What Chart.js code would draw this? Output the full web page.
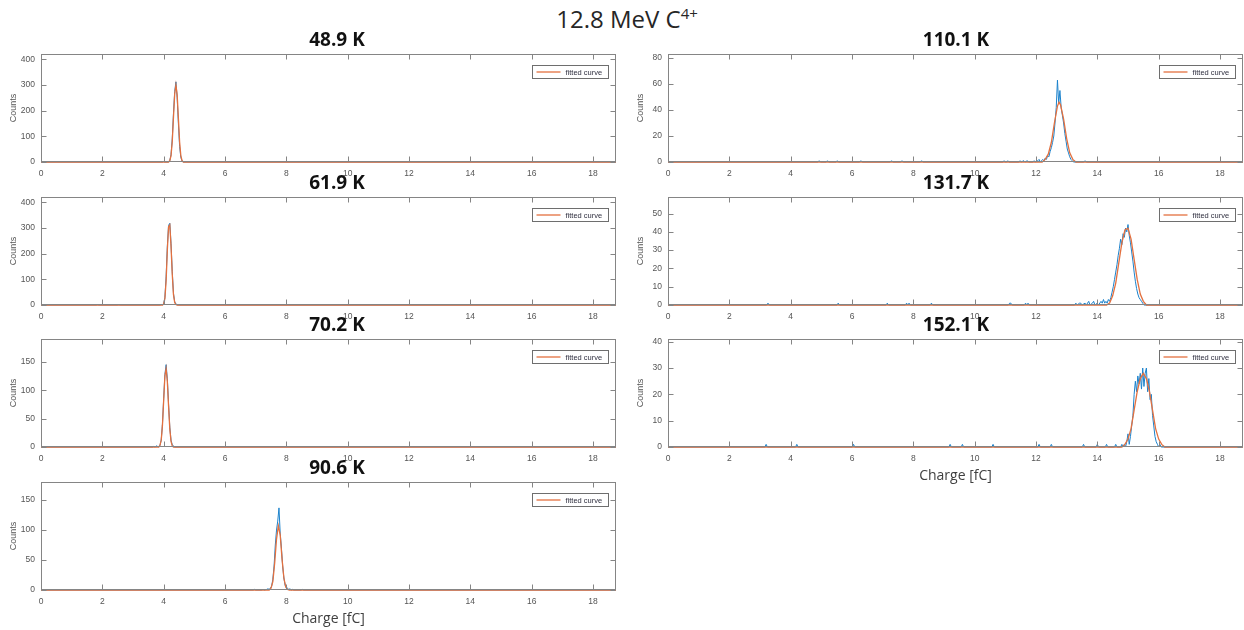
<!DOCTYPE html>
<html lang="en">

<head>
    <meta charset="UTF-8">
    <title>12.8 MeV C4+</title>
    <script src="https://cdn.jsdelivr.net/npm/chart.js"></script>
    <style>
        body {
            margin: 0;
            background: #fff;
            overflow: hidden;
        }

        #page {
            position: relative;
            width: 1244px;
            height: 630px;
            font-family: "Open Sans", sans-serif;
        }

        .main {
            position: absolute;
            left: 477px;
            top: 7px;
            width: 300px;
            text-align: center;
            font-size: 24px;
            line-height: 24px;
            color: #262626;
        }

        .main span {
            font-size: 15px;
            position: relative;
            top: -9px;
        }

        .ptitle {
            position: absolute;
            width: 200px;
            text-align: center;
            font-weight: bold;
            font-size: 19px;
            line-height: 19px;
            color: #111;
            z-index: 2;
        }

        canvas {
            position: absolute;
        }
    </style>
</head>

<body>
    <div id="page">
        <div class="main">12.8 MeV C<span>4+</span></div>

        <!--LEFT COLUMN-->
        <div class="ptitle" style="left:237px; top:30px">48.9 K</div>
        <div class="ptitle" style="left:237px; top:173px">61.9 K</div>
        <div class="ptitle" style="left:237px; top:315px">70.2 K</div>
        <div class="ptitle" style="left:237px; top:458px">90.6 K</div>
        <canvas id="p489" width="619" height="141" style="left:0; top:43px"></canvas>
        <canvas id="p619" width="619" height="141" style="left:0; top:186px"></canvas>
        <canvas id="p702" width="619" height="141" style="left:0; top:328px"></canvas>
        <canvas id="p906" width="619" height="158" style="left:0; top:471px"></canvas>

        <!--RIGHT COLUMN-->
        <div class="ptitle" style="left:856px; top:30px">110.1 K</div>
        <div class="ptitle" style="left:856px; top:173px">131.7 K</div>
        <div class="ptitle" style="left:856px; top:315px">152.1 K</div>
        <canvas id="p1101" width="618" height="141" style="left:627px; top:43px"></canvas>
        <canvas id="p1317" width="618" height="141" style="left:627px; top:186px"></canvas>
        <canvas id="p1521" width="618" height="158" style="left:627px; top:328px"></canvas>
    </div>
</body>

</html>
<script>
    // charge axis range [fC]
    const xMax = 18.75;

    // [charge, counts]
    const hist489 = [[0, 0], [3.96, 0], [4.0, 2], [4.04, 0], [4.16, 0], [4.2, 6], [4.24, 28], [4.28, 90], [4.32, 190], [4.36, 275], [4.4, 312], [4.44, 250], [4.48, 150], [4.52, 60], [4.56, 18], [4.6, 4], [4.64, 0], [18.75, 0]];
    const fit489 = [[0, 0], [4.16, 0], [4.2, 5], [4.24, 25], [4.28, 80], [4.32, 175], [4.36, 265], [4.4, 300], [4.44, 262], [4.48, 170], [4.52, 78], [4.56, 24], [4.6, 5], [4.64, 0], [18.75, 0]];

    const hist619 = [[0, 0], [1.8, 0], [1.84, 1], [1.88, 0], [2.5, 0], [2.54, 1], [2.58, 0], [3.88, 0], [3.92, 2], [3.96, 1], [4.0, 5], [4.04, 30], [4.08, 110], [4.12, 230], [4.16, 310], [4.2, 318], [4.24, 240], [4.28, 130], [4.32, 45], [4.36, 12], [4.4, 4], [4.44, 1], [4.48, 0], [18.75, 0]];
    const fit619 = [[0, 0], [3.96, 0], [4.0, 4], [4.04, 25], [4.08, 95], [4.12, 215], [4.16, 305], [4.2, 312], [4.24, 230], [4.28, 120], [4.32, 40], [4.36, 10], [4.4, 2], [4.44, 0], [18.75, 0]];

    const hist702 = [[0, 0], [3.64, 0], [3.68, 1], [3.72, 0], [3.76, 2], [3.8, 1], [3.84, 0], [3.88, 3], [3.92, 12], [3.96, 40], [4.0, 85], [4.04, 128], [4.08, 145], [4.12, 120], [4.16, 75], [4.2, 35], [4.24, 12], [4.28, 4], [4.32, 2], [4.36, 0], [18.75, 0]];
    const fit702 = [[0, 0], [3.84, 0], [3.88, 3], [3.92, 12], [3.96, 38], [4.0, 82], [4.04, 125], [4.08, 138], [4.12, 115], [4.16, 72], [4.2, 32], [4.24, 10], [4.28, 2], [4.32, 0], [18.75, 0]];

    const hist906 = [[0, 0], [6.92, 0], [6.96, 1], [7.0, 0], [7.2, 0], [7.24, 1], [7.28, 0], [7.36, 1], [7.4, 2], [7.44, 1], [7.48, 3], [7.52, 6], [7.56, 18], [7.6, 40], [7.64, 75], [7.68, 100], [7.72, 115], [7.76, 137], [7.8, 95], [7.84, 70], [7.88, 40], [7.92, 20], [7.96, 8], [8.0, 4], [8.04, 3], [8.08, 1], [8.12, 2], [8.16, 0], [8.2, 1], [8.24, 0], [8.48, 0], [8.52, 1], [8.56, 0], [18.75, 0]];
    const fit906 = [[0, 0], [7.44, 0], [7.5, 3], [7.56, 14], [7.62, 45], [7.68, 85], [7.74, 107], [7.8, 92], [7.86, 52], [7.92, 20], [7.98, 5], [8.04, 1], [8.1, 0], [18.75, 0]];

    const hist1101 = [[0, 0], [4.89, 0], [4.93, 1], [4.97, 0], [5.16, 0], [5.2, 1], [5.24, 0], [5.48, 0], [5.52, 1], [5.56, 0], [6.25, 0], [6.29, 1], [6.33, 0], [7.25, 0], [7.29, 1], [7.33, 0], [7.59, 0], [7.63, 1], [7.67, 0], [8.23, 0], [8.27, 1], [8.31, 0], [10.92, 0], [10.96, 1], [11.0, 0], [11.04, 0], [11.08, 1], [11.12, 0], [11.44, 0], [11.48, 1], [11.52, 0], [11.6, 1], [11.64, 0], [11.72, 1], [11.76, 0], [11.9, 0], [11.94, 1], [11.98, 0], [12.06, 1], [12.1, 2], [12.14, 0], [12.18, 1], [12.22, 2], [12.26, 1], [12.3, 3], [12.34, 2], [12.38, 5], [12.42, 4], [12.46, 8], [12.5, 11], [12.54, 15], [12.58, 20], [12.62, 30], [12.66, 42], [12.7, 63], [12.74, 45], [12.78, 55], [12.82, 42], [12.86, 36], [12.9, 30], [12.94, 22], [12.98, 16], [13.02, 10], [13.06, 7], [13.1, 4], [13.14, 2], [13.18, 1], [13.22, 0], [13.56, 0], [13.6, 1], [13.64, 0], [18.75, 0]];
    const fit1101 = [[0, 0], [12.2, 0], [12.3, 2], [12.4, 6], [12.5, 15], [12.6, 30], [12.7, 43], [12.75, 46], [12.8, 44], [12.9, 33], [13.0, 18], [13.1, 7], [13.2, 2], [13.3, 0], [18.75, 0]];

    const hist1317 = [[0, 0], [3.22, 0], [3.26, 1], [3.3, 0], [5.51, 0], [5.55, 1], [5.59, 0], [7.11, 0], [7.15, 1], [7.19, 0], [7.74, 0], [7.78, 1], [7.82, 0], [7.86, 1], [7.9, 0], [8.55, 0], [8.59, 1], [8.63, 0], [11.1, 0], [11.14, 1], [11.18, 1], [11.22, 0], [11.62, 0], [11.66, 1], [11.7, 0], [11.74, 1], [11.78, 0], [13.26, 0], [13.3, 1], [13.34, 0], [13.42, 1], [13.46, 1], [13.5, 0], [13.6, 1], [13.64, 0], [13.72, 2], [13.76, 0], [13.84, 1], [13.88, 2], [13.92, 0], [14.0, 1], [14.04, 0], [14.12, 2], [14.16, 1], [14.2, 3], [14.24, 1], [14.28, 2], [14.32, 1], [14.36, 3], [14.4, 2], [14.44, 4], [14.48, 7], [14.52, 10], [14.56, 14], [14.6, 18], [14.64, 22], [14.68, 27], [14.72, 31], [14.76, 36], [14.8, 33], [14.84, 39], [14.88, 37], [14.92, 42], [14.96, 40], [15.0, 44], [15.04, 38], [15.08, 34], [15.12, 29], [15.16, 24], [15.2, 18], [15.24, 13], [15.28, 9], [15.32, 6], [15.36, 4], [15.4, 3], [15.44, 2], [15.48, 1], [15.52, 0], [18.75, 0]];
    const fit1317 = [[0, 0], [14.3, 0], [14.4, 1], [14.5, 5], [14.6, 12], [14.7, 23], [14.8, 34], [14.9, 41], [15.0, 42], [15.1, 36], [15.2, 25], [15.3, 14], [15.4, 6], [15.5, 2], [15.6, 0], [18.75, 0]];

    const hist1521 = [[0, 0], [3.16, 0], [3.2, 1], [3.24, 0], [4.16, 0], [4.2, 1], [4.24, 0], [6.01, 0], [6.05, 1], [6.09, 0], [9.16, 0], [9.2, 1], [9.24, 0], [9.56, 0], [9.6, 1], [9.64, 0], [10.56, 0], [10.6, 1], [10.64, 0], [12.06, 0], [12.1, 1], [12.14, 0], [12.46, 0], [12.5, 1], [12.54, 0], [13.51, 0], [13.55, 1], [13.59, 0], [13.96, 0], [14.0, 1], [14.04, 0], [14.26, 0], [14.3, 1], [14.34, 0], [14.56, 0], [14.6, 1], [14.64, 0], [14.76, 0], [14.8, 1], [14.84, 0], [14.88, 1], [14.92, 0], [14.96, 2], [15.0, 5], [15.04, 1], [15.08, 4], [15.12, 8], [15.16, 12], [15.2, 20], [15.24, 25], [15.28, 21], [15.32, 27], [15.36, 24], [15.4, 28], [15.44, 22], [15.48, 30], [15.52, 23], [15.56, 28], [15.6, 30], [15.64, 21], [15.68, 26], [15.72, 18], [15.76, 20], [15.8, 12], [15.84, 8], [15.88, 4], [15.92, 2], [15.96, 1], [16.0, 0], [16.04, 1], [16.08, 0], [18.75, 0]];
    const fit1521 = [[0, 0], [14.8, 0], [14.9, 1], [15.0, 3], [15.1, 7], [15.2, 14], [15.3, 21], [15.4, 26], [15.5, 28], [15.6, 26], [15.7, 21], [15.8, 14], [15.9, 7], [16.0, 3], [16.1, 1], [16.2, 0], [18.75, 0]];

    Chart.defaults.font.family = '"Liberation Sans", Arial, sans-serif';
    Chart.defaults.font.size = 8.5;
    Chart.defaults.color = '#555';

    // matlab style box: frame, inward ticks on all sides, legend in the corner
    const matlabBox = {
        id: 'matlabBox',
        afterDatasetsDraw(chart) {
            const ctx = chart.ctx;
            const a = chart.chartArea;
            const xs = chart.scales.x;
            const ys = chart.scales.y;
            const l = Math.round(a.left) + 0.5, r = Math.round(a.right) - 0.5;
            const t = Math.round(a.top) + 0.5, b = Math.round(a.bottom) - 0.5;
            ctx.save();
            ctx.strokeStyle = '#858585';
            ctx.lineWidth = 1;
            ctx.beginPath();
            xs.ticks.forEach(function (tk) {
                const px = Math.round(xs.getPixelForValue(tk.value)) + 0.5;
                ctx.moveTo(px, b); ctx.lineTo(px, b - 5);
                ctx.moveTo(px, t); ctx.lineTo(px, t + 5);
            });
            ys.ticks.forEach(function (tk) {
                const py = Math.round(ys.getPixelForValue(tk.value)) + 0.5;
                ctx.moveTo(l, py); ctx.lineTo(l + 5, py);
                ctx.moveTo(r, py); ctx.lineTo(r - 5, py);
            });
            ctx.stroke();
            ctx.strokeRect(l, t, r - l, b - t);

            // legend
            const ds = chart.data.datasets[0];
            const bw = 76, bh = 13;
            const bx = Math.round(a.right) - 8 - bw + 0.5;
            const by = Math.round(a.top) + 11 + 0.5;
            ctx.fillStyle = '#fff';
            ctx.fillRect(bx, by, bw, bh);
            ctx.strokeStyle = '#6e6e6e';
            ctx.strokeRect(bx, by, bw, bh);
            ctx.strokeStyle = ds.borderColor;
            ctx.lineWidth = 1.3;
            ctx.beginPath();
            ctx.moveTo(bx + 4, by + bh / 2);
            ctx.lineTo(bx + 28, by + bh / 2);
            ctx.stroke();
            ctx.fillStyle = '#303040';
            ctx.font = '7.5px "Liberation Sans", Arial, sans-serif';
            ctx.textBaseline = 'middle';
            ctx.fillText(ds.label, bx + 33, by + bh / 2 + 0.5);
            ctx.restore();
        }
    };

    function toPoints(arr) {
        return arr.map(function (p) { return { x: p[0], y: p[1] }; });
    }

    function makePanel(id, hist, fit, yMax, yStep, withLabel) {
        new Chart(document.getElementById(id), {
            type: 'line',
            data: {
                datasets: [
                    { label: 'fitted curve', data: toPoints(fit), borderColor: '#e3703f', borderWidth: 1.3, pointRadius: 0, clip: 3 },
                    { label: 'counts', data: toPoints(hist), borderColor: '#1b82cc', borderWidth: 1, pointRadius: 0, clip: 3 }
                ]
            },
            options: {
                responsive: false,
                animation: false,
                devicePixelRatio: 1,
                layout: { padding: { top: 6, right: id.length > 4 ? 2 : 3, left: 0, bottom: 0 } },
                plugins: {
                    legend: { display: false },
                    tooltip: { enabled: false }
                },
                scales: {
                    x: {
                        type: 'linear',
                        min: 0,
                        max: xMax,
                        grid: { display: false, drawTicks: false },
                        border: { display: false },
                        ticks: { stepSize: 2, includeBounds: false, autoSkip: false, maxRotation: 0, padding: 7 },
                        title: {
                            display: withLabel,
                            text: 'Charge [fC]',
                            color: '#404040',
                            font: { family: '"Open Sans", sans-serif', size: 14 },
                            padding: { top: 0, bottom: 2 }
                        },
                        afterFit: function (s) { s.height = withLabel ? 39 : 22; }
                    },
                    y: {
                        min: 0,
                        max: yMax,
                        grid: { display: false, drawTicks: false },
                        border: { display: false },
                        ticks: { stepSize: yStep, includeBounds: false, padding: 6 },
                        title: { display: true, text: 'Counts', font: { size: 9 }, padding: { top: 8, bottom: 0 } },
                        afterFit: function (s) { s.width = 41; }
                    }
                }
            },
            plugins: [matlabBox]
        });
    }

    makePanel('p489', hist489, fit489, 420, 100, false);
    makePanel('p619', hist619, fit619, 420, 100, false);
    makePanel('p702', hist702, fit702, 190, 50, false);
    makePanel('p906', hist906, fit906, 180, 50, true);
    makePanel('p1101', hist1101, fit1101, 83, 20, false);
    makePanel('p1317', hist1317, fit1317, 59, 10, false);
    makePanel('p1521', hist1521, fit1521, 41, 10, true);
</script>
